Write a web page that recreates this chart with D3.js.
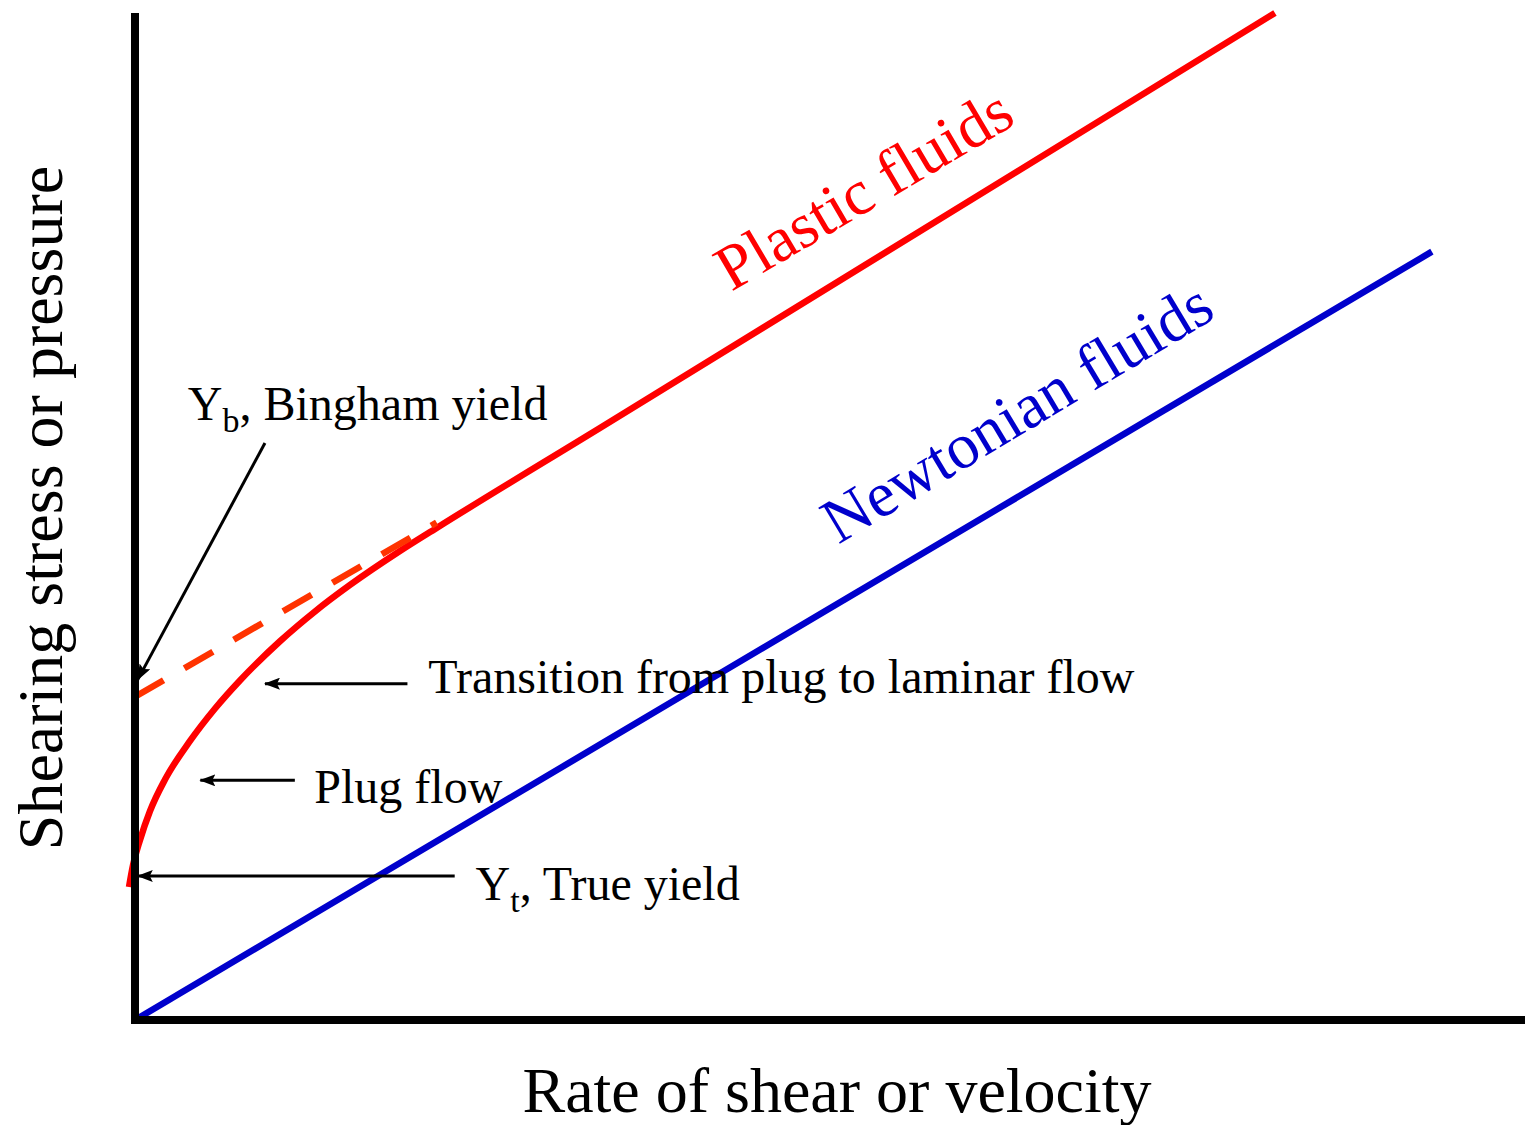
<!DOCTYPE html>
<html>
<head>
<meta charset="utf-8">
<script src="https://cdn.jsdelivr.net/npm/d3@7"></script>
<style>
  html, body { margin: 0; padding: 0; background: #fff; }
  svg { display: block; }
</style>
</head>
<body>
<div id="container"></div>
<script>
const width = 1525;
const height = 1125;

// data, in chart units (x: rate of shear, y: shearing stress)
const newtonian = [[0, 0], [9.33, 7.63]];
const plastic = [
  [-0.043, 1.321], [-0.014, 1.539], [0.036, 1.787], [0.108, 2.075], [0.216, 2.388],
  [0.396, 2.771], [0.576, 3.093], [0.755, 3.371], [1.043, 3.761], [1.295, 4.057],
  [1.547, 4.320], [1.906, 4.657], [2.173, 4.889], [3.345, 5.879], [8.201, 10.0]
];
const bingham = [[0, 3.21], [2.17, 4.94]];

// annotation arrows: [from, to]
const arrows = [
  [[0.935, 5.73], [0.02, 3.38]],
  [[1.96, 3.34], [0.935, 3.34]],
  [[1.15, 2.38], [0.47, 2.38]],
  [[2.30, 1.43], [0.02, 1.43]]
];

// labels: text, subscript, rest, position
const notes = [
  {main: "Y", sub: "b", rest: ", Bingham yield", at: [0.38, 5.96]},
  {main: "Transition from plug to laminar flow", sub: "", rest: "", at: [2.11, 3.25]},
  {main: "Plug flow", sub: "", rest: "", at: [1.29, 2.15]},
  {main: "Y", sub: "t", rest: ", True yield", at: [2.45, 1.19]}
];

const x = d3.scaleLinear().domain([0, 10]).range([135, 1525]);
const y = d3.scaleLinear().domain([0, 10]).range([1020, 13]);

const serif = "'Liberation Serif', 'Times New Roman', serif";

const svg = d3.select("div#container")
    .append("svg")
    .attr("width", width)
    .attr("height", height)
    .attr("viewBox", [0, 0, width, height])
    .style("font-family", serif);

svg.append("defs").append("marker")
    .attr("id", "head")
    .attr("markerUnits", "userSpaceOnUse")
    .attr("viewBox", "0 -6 16 12")
    .attr("refX", 15)
    .attr("refY", 0)
    .attr("markerWidth", 16)
    .attr("markerHeight", 12)
    .attr("orient", "auto")
    .append("path")
    .attr("d", "M0,-6L16,0L0,6L3,0Z")
    .attr("fill", "#000");

const line = d3.line().x(d => x(d[0])).y(d => y(d[1]));

// lines
svg.append("path")
    .attr("d", line(newtonian))
    .attr("fill", "none")
    .attr("stroke", "#0000cc")
    .attr("stroke-width", 6.5);

svg.append("path")
    .attr("d", d3.line().x(d => x(d[0])).y(d => y(d[1])).curve(d3.curveMonotoneX)(plastic))
    .attr("fill", "none")
    .attr("stroke", "#ff0000")
    .attr("stroke-width", 6.5);

svg.append("path")
    .attr("d", line(bingham))
    .attr("fill", "none")
    .attr("stroke", "#ff3300")
    .attr("stroke-width", 6.5)
    .attr("stroke-dasharray", "33 24");

// axes, drawn as plain thick lines with no ticks
svg.append("line")
    .attr("x1", x(0)).attr("x2", x(0))
    .attr("y1", y(10)).attr("y2", y(0) + 4)
    .attr("stroke", "#000").attr("stroke-width", 8);
svg.append("line")
    .attr("x1", x(0) - 4).attr("x2", x(10))
    .attr("y1", y(0)).attr("y2", y(0))
    .attr("stroke", "#000").attr("stroke-width", 8);

// arrows
svg.selectAll("line.arrow")
    .data(arrows)
    .join("line")
    .attr("class", "arrow")
    .attr("x1", d => x(d[0][0]))
    .attr("y1", d => y(d[0][1]))
    .attr("x2", d => x(d[1][0]))
    .attr("y2", d => y(d[1][1]))
    .attr("stroke", "#000")
    .attr("stroke-width", 3)
    .attr("marker-end", "url(#head)");

// annotation text
const note = svg.selectAll("text.note")
    .data(notes)
    .join("text")
    .attr("class", "note")
    .attr("x", d => x(d.at[0]))
    .attr("y", d => y(d.at[1]))
    .attr("font-size", 48);
note.append("tspan").text(d => d.main);
note.filter(d => d.sub).append("tspan")
    .attr("font-size", 34)
    .attr("dy", 12)
    .text(d => d.sub);
note.filter(d => d.rest).append("tspan")
    .attr("dy", -12)
    .text(d => d.rest);

// series labels along the lines
svg.append("text")
    .attr("transform", `translate(${x(4.29)},${y(7.23)}) rotate(-30.5)`)
    .attr("font-size", 64)
    .attr("fill", "#ff0000")
    .text("Plastic fluids");

svg.append("text")
    .attr("transform", `translate(${x(5.06)},${y(4.72)}) rotate(-31)`)
    .attr("font-size", 64)
    .attr("fill", "#0000cc")
    .text("Newtonian fluids");

// axis titles
svg.append("text")
    .attr("x", 837)
    .attr("y", 1112)
    .attr("text-anchor", "middle")
    .attr("font-size", 64)
    .text("Rate of shear or velocity");

svg.append("text")
    .attr("transform", "translate(62,508) rotate(-90)")
    .attr("text-anchor", "middle")
    .attr("font-size", 64)
    .text("Shearing stress or pressure");
</script>
</body>
</html>
